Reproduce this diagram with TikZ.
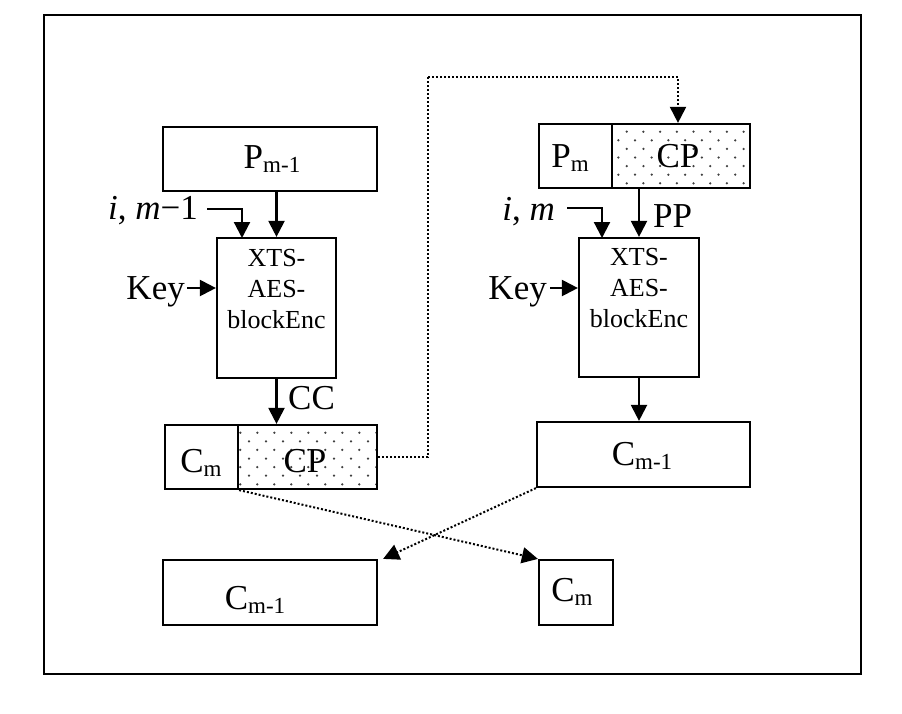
\documentclass[tikz,border=0pt]{standalone}
\usepackage{fontspec}
\setmainfont{Liberation Serif}
\usetikzlibrary{arrows.meta,calc}
\newcommand{\sbs}[1]{\raisebox{-4pt}{\fontsize{23}{23}\selectfont #1}}
\begin{document}
\begin{tikzpicture}[x=1pt,y=-1pt,
  box/.style={draw,line width=2.2pt,inner sep=0pt,fill=none},
  lbl/.style={inner sep=0pt,anchor=base,font=\fontsize{35}{40}\selectfont},
  xlbl/.style={inner sep=0pt,anchor=base,font=\fontsize{26}{30}\selectfont},
  arr/.style={line width=2.2pt,-{Triangle[width=16pt,length=16pt]}},
  dotarr/.style={line width=2pt,dash pattern=on 2pt off 2pt,-{Triangle[width=16pt,length=16pt]}},
  dotline/.style={line width=2pt,dash pattern=on 2pt off 2pt}
]
\useasboundingbox (0,0) rectangle (902,713);
\fill[white] (0,0) rectangle (902,713);
\draw[line width=2.2pt] (44,15) rectangle (861,674);

% dot patterns
\begin{scope}
  \clip (239,426) rectangle (376,488);
  \foreach \r in {0,...,7} {
    \pgfmathsetmacro{\yy}{432.7+8.6*\r}
    \pgfmathsetmacro{\xo}{mod(\r,2)==0 ? 257.3 : 249}
    \foreach \k in {-1,...,8} {
      \fill[black!75] ({\xo+17*\k},\yy) circle (1.25pt);
    }
  }
\end{scope}
\begin{scope}
  \clip (613,125) rectangle (749,187);
  \foreach \r in {0,...,7} {
    \pgfmathsetmacro{\yy}{131.7+8.6*\r}
    \pgfmathsetmacro{\xo}{mod(\r,2)==0 ? 626.7 : 618.3}
    \foreach \k in {-1,...,8} {
      \fill[black!75] ({\xo+16.7*\k},\yy) circle (1.25pt);
    }
  }
\end{scope}

% boxes
\node[box,minimum width=214pt,minimum height=64pt] (pm1) at (270,159) {};
\node[box,minimum width=119pt,minimum height=140pt] (xL) at (276.5,308) {};
\node[box,minimum width=73pt,minimum height=64pt] (cmL) at (201.5,457) {};
\node[box,minimum width=139pt,minimum height=64pt] (cpL) at (307.5,457) {};
\node[box,minimum width=73pt,minimum height=64pt] (pmR) at (575.5,156) {};
\node[box,minimum width=138pt,minimum height=64pt] (cpR) at (681,156) {};
\node[box,minimum width=120pt,minimum height=139pt] (xR) at (639,307.5) {};
\node[box,minimum width=213pt,minimum height=65pt] (cm1R) at (643.5,454.5) {};
\node[box,minimum width=214pt,minimum height=65pt] (cm1B) at (270,592.5) {};
\node[box,minimum width=74pt,minimum height=65pt] (cmB) at (576,592.5) {};

% texts
\node[lbl] (tPm1) at (272,168) {P\sbs{m-1}};
\node[lbl] (tPm) at (570,167) {P\sbs{m}};
\node[lbl] (tCPr) at (678,167) {CP};
\node[lbl] (tCmL) at (201,472) {C\sbs{m}};
\node[lbl] (tCPl) at (305,472) {CP};
\node[lbl] (tCm1R) at (642,465) {C\sbs{m-1}};
\node[lbl] (tCm1B) at (255,609) {C\sbs{m-1}};
\node[lbl] (tCmB) at (572,601) {C\sbs{m}};
\node[lbl,anchor=base east] (tiL) at (198,219) {\textit{i}, \textit{m}−1};
\node[lbl,anchor=base east] (tiR) at (555,220) {\textit{i}, \textit{m}};
\node[lbl,anchor=base east] (tKeyL) at (185,299) {Key};
\node[lbl,anchor=base east] (tKeyR) at (547,299) {Key};
\node[lbl,anchor=base west] (tCC) at (288,409) {CC};
\node[lbl,anchor=base west] (tPP) at (653,227) {PP};

\node[xlbl] (xL1) at (276.5,266) {XTS-};
\node[xlbl] (xL2) at (276.5,297) {AES-};
\node[xlbl] (xL3) at (276.5,328) {blockEnc};
\node[xlbl] (xR1) at (639,265) {XTS-};
\node[xlbl] (xR2) at (639,296) {AES-};
\node[xlbl] (xR3) at (639,327) {blockEnc};

% coordinates
\coordinate (iL) at (207,209);
\coordinate (iLt) at (242,238);
\coordinate (iR) at (567,208);
\coordinate (iRt) at (602,238);
\coordinate (kL) at (187,288);
\coordinate (kR) at (550,288);
\coordinate (d1) at (428,77);

% solid arrows
\draw[arr] (xL.north |- pm1.south) -- (xL.north);
\draw[arr] (iL) -| (iLt);
\draw[arr] (kL) -- (kL -| xL.west);
\draw[arr] (xL.south) -- (xL.south |- cpL.north);
\draw[arr] (xR.north |- cpR.south) -- (xR.north);
\draw[arr] (iR) -| (iRt);
\draw[arr] (kR) -- (kR -| xR.west);
\draw[arr] (xR.south) -- (xR.south |- cm1R.north);

% dotted arrows
\draw[dotline] (cpL.east) -| (d1);
\draw[dotarr] (d1) -| ($(cpR.north)+(-3,0)$);
\draw[dotarr] (cmL.south east) -- (cmB.north west);
\draw[dotarr] (cm1R.south west) -- ($(cm1B.north east)+(5,0)$);
\end{tikzpicture}
\end{document}
